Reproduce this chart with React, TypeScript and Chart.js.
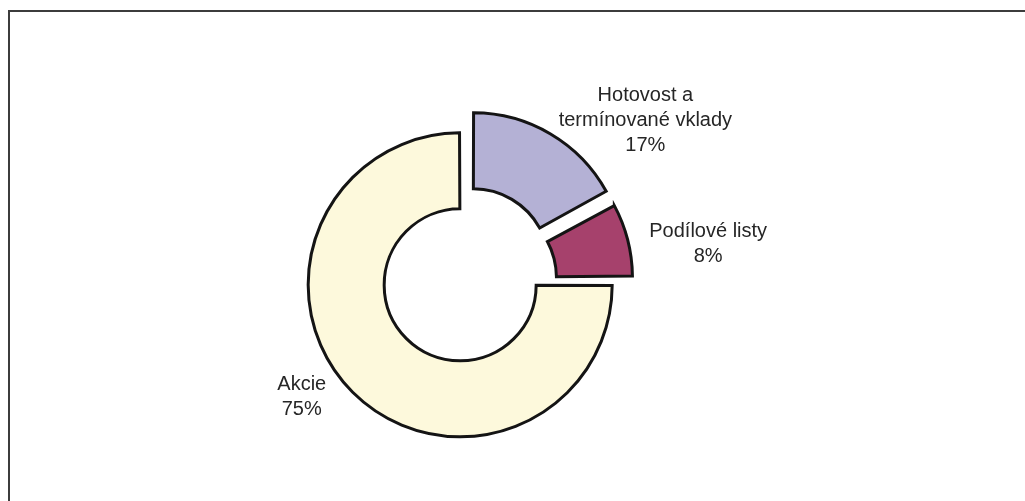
import React, { useEffect, useRef } from 'react';
import { Chart, registerables } from 'chart.js';

Chart.register(...registerables);

// ---- data ----
const categories = ['Hotovost a termínované vklady', 'Podílové listy', 'Akcie'];
const labelLines = [['Hotovost a', 'termínované vklady'], ['Podílové listy'], ['Akcie']];
const shares = [17, 8, 75];

// ---- styles ----
const sliceColors = ['#B4B1D5', '#A6416C', '#FDF9DC'];
const explode = [80, 72, 16];
const labelNudges = [[2, -5], [10, 6], [-18, -5]];
const FONT = '20px "Liberation Sans", Arial, sans-serif';
const LINE_H = 25;
const TEXT_COLOR = '#262626';

const framePlugin = {
  id: 'frame',
  beforeDraw(chart: any) {
    const ctx = chart.ctx;
    ctx.save();
    ctx.fillStyle = '#3C3C3C';
    ctx.fillRect(8, 10, chart.width, 2);
    ctx.fillRect(8, 10, 2, chart.height);
    ctx.restore();
  },
};

// Chart.js grows exploded arcs' radii; keep all slices the same ring size.
const explodeFixPlugin = {
  id: 'explodeFix',
  beforeDatasetsDraw(chart: any) {
    const meta = chart.getDatasetMeta(0);
    const ctrl: any = meta.controller;
    meta.data.forEach((arc: any) => {
      const t = (arc.options.offset || 0) / 4;
      const fix = 1 - Math.sin(Math.min(Math.PI, arc.circumference || 0));
      const ro = t * fix;
      arc.outerRadius = ctrl.outerRadius - ro;
      arc.innerRadius = ctrl.innerRadius - ro;
    });
  },
};

const labelPlugin = {
  id: 'sliceLabels',
  afterDatasetsDraw(chart: any) {
    const meta = chart.getDatasetMeta(0);
    const ctrl: any = meta.controller;
    const ctx = chart.ctx;
    ctx.save();
    ctx.font = FONT;
    ctx.fillStyle = TEXT_COLOR;
    ctx.textAlign = 'center';
    ctx.textBaseline = 'alphabetic';
    meta.data.forEach((arc: any, i: number) => {
      const t = (arc.options.offset || 0) / 4;
      const mid = (arc.startAngle + arc.endAngle) / 2;
      const dx = Math.cos(mid);
      const dy = Math.sin(mid);
      const cx = arc.x + dx * t;
      const cy = arc.y + dy * t;
      const r = ctrl.outerRadius + 12;
      const ax = cx + dx * r;
      const ay = cy + dy * r;
      const lines = [...labelLines[i], `${shares[i]}%`];
      const w = Math.max(...lines.map((l) => ctx.measureText(l).width));
      const h = lines.length * LINE_H;
      const left = dx >= 0 ? ax : ax - w;
      const centerX = left + w / 2 + labelNudges[i][0];
      const top = ay - h / 2;
      const base0 = top + LINE_H / 2 + 7 + labelNudges[i][1];
      lines.forEach((line, k) => {
        ctx.fillText(line, centerX, base0 + k * LINE_H);
      });
    });
    ctx.restore();
  },
};

export default function App() {
  const ref = useRef<HTMLCanvasElement>(null);

  useEffect(() => {
    const chart = new Chart(ref.current as HTMLCanvasElement, {
      type: 'doughnut',
      data: {
        labels: categories,
        datasets: [
          {
            data: shares,
            backgroundColor: sliceColors,
            borderColor: '#141414',
            borderWidth: 3,
            borderJoinStyle: 'miter',
            offset: explode,
          } as any,
        ],
      },
      options: {
        responsive: false,
        maintainAspectRatio: false,
        animation: false,
        devicePixelRatio: 1,
        events: [],
        radius: 152,
        cutout: '50%',
        layout: { padding: { left: 0, right: 99, top: 63, bottom: 0 } },
        plugins: {
          legend: { display: false },
          tooltip: { enabled: false },
        },
      } as any,
      plugins: [framePlugin, explodeFixPlugin, labelPlugin],
    });
    return () => chart.destroy();
  }, []);

  return (
    <div
      style={{
        position: 'fixed',
        left: 0,
        top: 0,
        width: 1025,
        height: 501,
        overflow: 'hidden',
        background: '#FFFFFF',
      }}
    >
      <canvas ref={ref} width={1025} height={501} style={{ display: 'block' }} />
    </div>
  );
}
